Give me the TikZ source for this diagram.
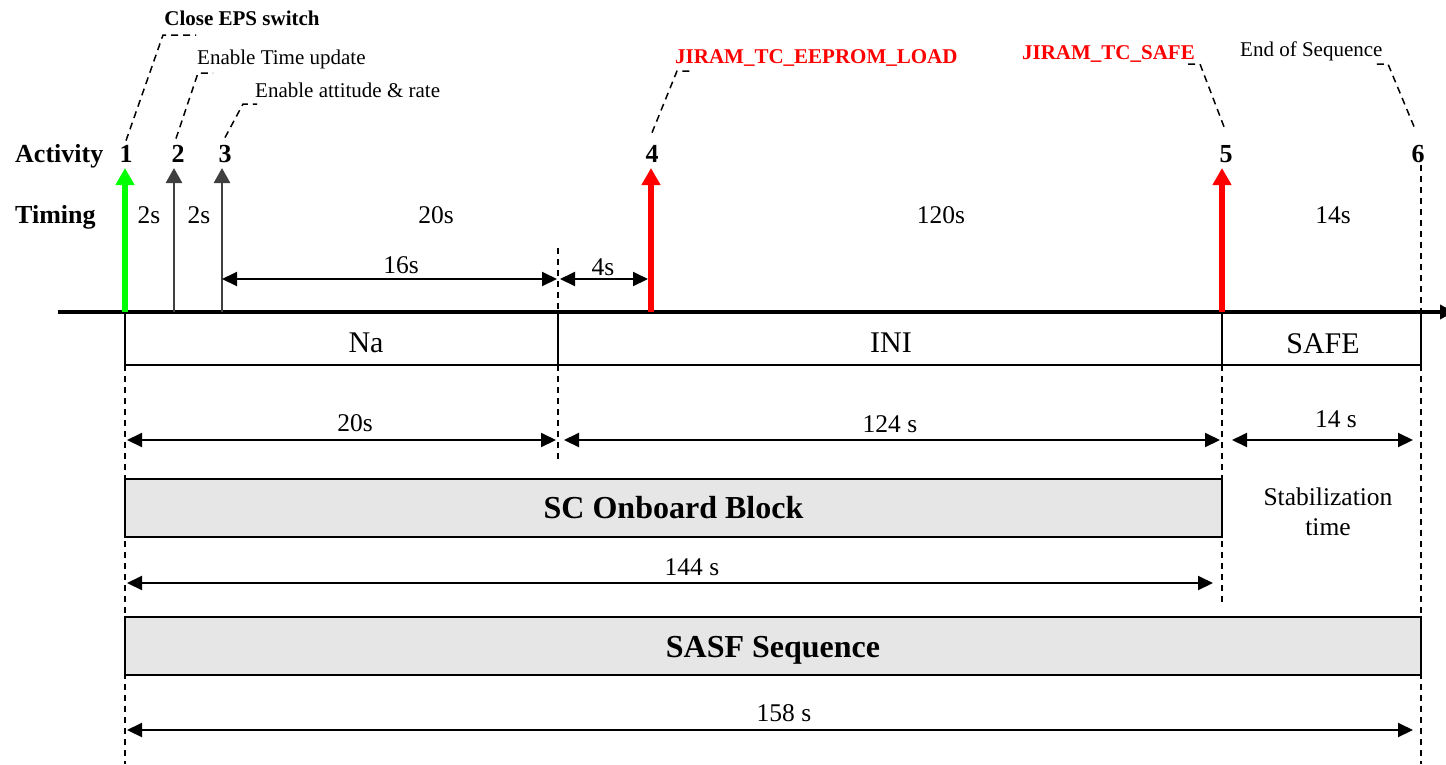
\documentclass[tikz,border=0pt]{standalone}
\usepackage{fontspec}
\setmainfont{Liberation Serif}
\usetikzlibrary{arrows.meta}
\definecolor{actgreen}{RGB}{0,255,0}
\definecolor{actred}{RGB}{255,0,0}
\definecolor{actgray}{RGB}{64,64,64}
\definecolor{boxfill}{RGB}{230,230,230}
\begin{document}
\begin{tikzpicture}[x=1pt,y=-1pt,
  lbl/.style={font=\fontsize{25.5}{28}\selectfont, inner sep=0pt, anchor=base},
  small/.style={font=\fontsize{21}{24}\selectfont, inner sep=0pt},
  smallbold/.style={font=\fontsize{21}{24}\selectfont\bfseries, inner sep=0pt},
  head/.style={font=\fontsize{26}{30}\selectfont\bfseries, inner sep=0pt, anchor=base},
  modetxt/.style={font=\fontsize{30}{34}\selectfont, inner sep=0pt, anchor=base},
  bigtxt/.style={font=\fontsize{32}{36}\selectfont\bfseries, inner sep=0pt, anchor=base},
  guide/.style={dash pattern=on 6pt off 5pt, line width=1.6pt},
  leader/.style={dash pattern=on 7pt off 5pt, line width=1.5pt},
  dim/.style={line width=2pt, {Triangle[length=15pt,width=14pt]}-{Triangle[length=15pt,width=14pt]}},
  mainact/.style={line width=5.5pt, -{Triangle[length=17pt,width=18pt]}},
  minoract/.style={line width=2.6pt, actgray, -{Triangle[length=15pt,width=16pt]}},
  bar/.style={draw, line width=2pt, fill=boxfill, inner sep=0pt},
  modebox/.style={draw, line width=1.8pt, inner sep=0pt, minimum height=53pt},
]
\useasboundingbox (0,0) rectangle (1446,764);

% ---- mode boxes
\node[modebox, minimum width=433pt] (na) at (341.5,338.5) {};
\node[modebox, minimum width=664pt] (ini) at (890,338.5) {};
\node[modebox, minimum width=199pt] (safe) at (1321.5,338.5) {};
\node[modetxt] (natxt) at (366,352) {Na};
\node[modetxt] (initxt) at (891,352) {INI};
\node[modetxt] (safetxt) at (1323,353) {SAFE};

% ---- key coordinates
\coordinate (axL) at (58,312);
\coordinate (axR) at (1446,312);
\coordinate (t1) at (125,312);
\coordinate (t2) at (174,312);
\coordinate (t3) at (222,312);
\coordinate (t4) at (651,312);
\coordinate (t5) at (1222,312);
\coordinate (t6) at (1421,312);

% ---- vertical guide lines
\draw[guide] (125,365) -- (125,764);
\draw[guide] (558,248) -- (558,312);
\draw[guide] (558,365) -- (558,462);
\draw[guide] (1222,365) -- (1222,602);
\draw[guide] (1421,165) -- (t6);
\draw[guide] (1421,365) -- (1421,764);

% ---- bars
\node[bar, minimum width=1097pt, minimum height=58pt] (scob) at (673.5,508) {};
\node[bigtxt] at (673.5,518) {SC Onboard Block};
\node[bar, minimum width=1296pt, minimum height=58pt] (sasf) at (773,646) {};
\node[bigtxt] at (773,657) {SASF Sequence};

% ---- main axis
\draw[line width=3.5pt, -{Triangle[length=14pt,width=14pt]}] (axL) -- ([xshift=8pt]axR);

% ---- activity arrows
\coordinate (h1) at (125,168);
\coordinate (h2) at (174,168);
\coordinate (h3) at (222,168);
\coordinate (h4) at (651,168);
\coordinate (h5) at (1222,168);
\draw[mainact, actgreen] (t1) -- (h1);
\draw[minoract] (t2) -- (h2);
\draw[minoract] (t3) -- (h3);
\draw[mainact, actred] (t4) -- (h4);
\draw[mainact, actred] (t5) -- (h5);

% ---- headings
\node[head, anchor=base west] (activity) at (15,162) {Activity};
\node[head, anchor=base west] (timing) at (15,223) {Timing};
\node[head] (n1) at (126,162) {1};
\node[head] (n2) at (178,162) {2};
\node[head] (n3) at (225,162) {3};
\node[head] (n4) at (652,162) {4};
\node[head] (n5) at (1226,162) {5};
\node[head] (n6) at (1418,162) {6};

% ---- timing labels
\node[lbl] (d1) at (149,223) {2s};
\node[lbl] (d2) at (199,223) {2s};
\node[lbl] (d3) at (436,223) {20s};
\node[lbl] (d4) at (941,223) {120s};
\node[lbl] (d5) at (1333,223) {14s};

% ---- 16s / 4s
\coordinate (a16l) at (222,279);
\coordinate (a16r) at (557,279);
\coordinate (a4l) at (560,279);
\coordinate (a4r) at (648,279);
\draw[dim] (a16l) -- (a16r);
\draw[dim] (a4l) -- (a4r);
\node[lbl] at (401,273) {16s};
\node[lbl] at (603,275) {4s};

% ---- dimension row
\coordinate (r1a) at (127,440);
\coordinate (r1b) at (556,440);
\coordinate (r2a) at (564,440);
\coordinate (r2b) at (1220,440);
\coordinate (r3a) at (1232,440);
\coordinate (r3b) at (1413,440);
\draw[dim] (r1a) -- (r1b);
\draw[dim] (r2a) -- (r2b);
\draw[dim] (r3a) -- (r3b);
\node[lbl] at (355,431) {20s};
\node[lbl] at (890,432) {124 s};
\node[lbl] at (1336,427) {14 s};

\node[lbl] (stab1) at (1328,505) {Stabilization};
\node[lbl] (stab2) at (1328,535) {time};

\coordinate (r4a) at (127,583);
\coordinate (r4b) at (1213,583);
\draw[dim] (r4a) -- (r4b);
\node[lbl] at (692,575) {144 s};
\coordinate (r5a) at (127,730);
\coordinate (r5b) at (1413,730);
\draw[dim] (r5a) -- (r5b);
\node[lbl] at (784,721) {158 s};

% ---- callouts
\node[smallbold, anchor=base] (c1) at (242,25) {Close EPS switch};
\node[small, anchor=base west] (c2) at (197,64) {Enable Time update};
\node[small, anchor=base west] (c3) at (255,97) {Enable attitude \& rate};
\node[smallbold, anchor=base west, text=actred] (c4) at (675,63) {JIRAM\_TC\_EEPROM\_LOAD};
\node[smallbold, anchor=base east, text=actred] (c5) at (1195,59) {JIRAM\_TC\_SAFE};
\node[small, anchor=base west] (c6) at (1240,56) {End of Sequence};

\draw[leader] (n1.north) ++(0,-4) -- (163,35) -- (196,35);
\draw[leader] (n2.north) ++(-2,-6) -- (198,73) -- (213,73);
\draw[leader] (n3.north) ++(0,-7) -- (243,104) -- (257,104);
\draw[leader] (n4.north) ++(0,-12) -- (677,71) -- (692,71);
\draw[leader] (n5.north) ++(-2,-18) -- (1200,64) -- (1186,64);
\draw[leader] (n6.north) ++(-4,-18) -- (1388,64) -- (1374,64);
\end{tikzpicture}
\end{document}
